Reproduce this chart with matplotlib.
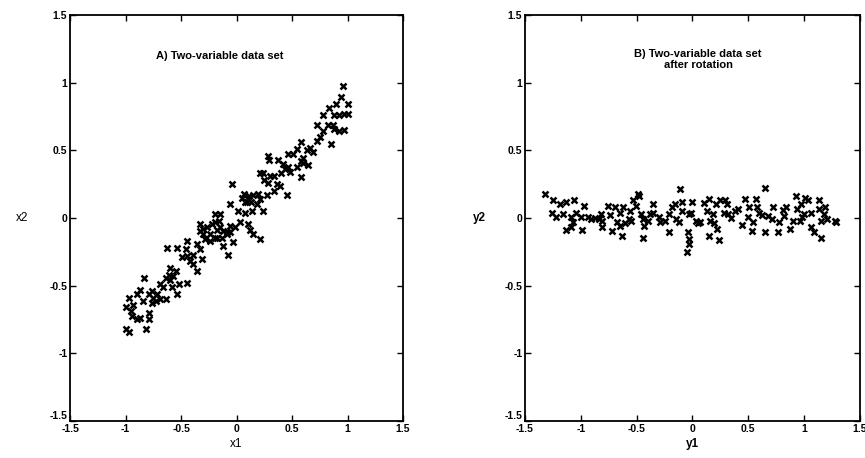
import matplotlib
matplotlib.use("Agg")
import matplotlib.pyplot as plt

plt.rcParams['font.family'] = ['Liberation Sans', 'DejaVu Sans']

# panel A: original two-variable data (x1, x2)
x1 = [0.955, 0.94, 1.0, 0.90, 0.83, 0.78, 0.88, 0.97, 0.925, 1.0,
      0.72, 0.82, 0.87, 0.88, 0.925, 0.97, 0.78, 0.75, 0.72, 0.85,
      0.58, 0.66, 0.69, 0.63, 0.54, 0.51, 0.46, 0.60, 0.64, 0.58,
      0.54, 0.46, 0.42, 0.37, 0.28, 0.29, 0.48, 0.58, 0.45, 0.40,
      0.34, 0.30, 0.24, 0.21, 0.25, 0.28, 0.36, 0.39, 0.34, 0.27,
      0.21, 0.19, 0.15, 0.10, 0.07, 0.045, -0.045, -0.06, 0.015, 0.075,
      0.135, 0.18, 0.24, 0.09, 0.13, 0.03, -0.015, 0.12, 0.15, 0.21,
      0.105, -0.06, -0.09, -0.03, -0.075, -0.12, -0.135, -0.18, -0.15, -0.19,
      -0.15, -0.19, -0.22, -0.27, -0.24, -0.30, -0.33, -0.28, -0.24, -0.19,
      -0.36, -0.33, -0.31, -0.39, -0.42, -0.45, -0.46, -0.45, -0.54, -0.63,
      -0.49, -0.39, -0.36, -0.45, -0.52, -0.60, -0.61, -0.57, -0.54, -0.58,
      -0.64, -0.69, -0.66, -0.64, -0.69, -0.73, -0.76, -0.79, -0.83, -0.84,
      -0.87, -0.90, -0.93, -0.97, -1.0, -0.955, -0.94, -0.90, -0.87, -0.79,
      -0.79, -0.82, -1.0, -0.97, -0.72, -0.75, -0.76, -0.60, -0.55, -0.30,
      -0.33, -0.16, -0.12, -0.09, -0.06, -0.18, 0.11, 0.08, 0.60, 0.44]
x2 = [0.975, 0.896, 0.84, 0.84, 0.81, 0.76, 0.76, 0.77, 0.76, 0.77,
      0.69, 0.69, 0.69, 0.66, 0.64, 0.65, 0.64, 0.60, 0.57, 0.55,
      0.56, 0.52, 0.49, 0.50, 0.51, 0.475, 0.475, 0.41, 0.39, 0.425,
      0.38, 0.38, 0.40, 0.43, 0.46, 0.43, 0.34, 0.30, 0.17, 0.33,
      0.31, 0.31, 0.33, 0.33, 0.28, 0.26, 0.25, 0.24, 0.20, 0.17,
      0.14, 0.18, 0.17, 0.14, 0.18, 0.15, 0.25, 0.10, 0.055, 0.04,
      0.055, 0.10, 0.055, 0.115, 0.115, -0.03, -0.07, -0.09, -0.12, -0.155,
      -0.045, -0.06, -0.12, -0.18, -0.27, -0.205, -0.145, -0.09, -0.07, -0.03,
      0.03, 0.03, -0.045, -0.07, -0.12, -0.08, -0.045, -0.155, -0.17, -0.145,
      -0.19, -0.23, -0.30, -0.27, -0.32, -0.28, -0.23, -0.17, -0.22, -0.22,
      -0.29, -0.34, -0.39, -0.48, -0.49, -0.37, -0.42, -0.43, -0.56, -0.51,
      -0.44, -0.49, -0.51, -0.60, -0.60, -0.61, -0.54, -0.56, -0.44, -0.61,
      -0.53, -0.56, -0.64, -0.59, -0.66, -0.69, -0.725, -0.75, -0.74, -0.70,
      -0.75, -0.82, -0.82, -0.84, -0.56, -0.59, -0.625, -0.46, -0.39, -0.12,
      -0.095, -0.02, -0.095, -0.105, -0.105, -0.145, 0.16, 0.12, 0.44, 0.36]

# panel B: the same data after rotation (y1, y2)
y1 = [-1.32, -1.25, -1.19, -1.26, -1.22, -1.16, -1.13, -1.06, -1.13, -1.09,
      -1.07, -1.09, -1.04, -0.97, -0.99, -1.0, -0.94, -0.91, -0.87, -0.81,
      -0.82, -0.81, -0.76, -0.69, -0.72, -0.68, -0.65, -0.63, -0.62, -0.65,
      -0.60, -0.57, -0.56, -0.53, -0.49, -0.48, -0.51, -0.46, -0.44, -0.44,
      -0.43, -0.40, -0.38, -0.35, -0.35, -0.29, -0.25, -0.21, -0.21, -0.18,
      -0.16, -0.15, -0.12, -0.11, -0.09, -0.09, -0.044, -0.035, -0.03, -0.05,
      -0.006, -0.015, 0.03, 0.07, 0.10, 0.15, 0.13, 0.18, 0.16, 0.19,
      0.15, 0.22, 0.24, 0.21, 0.25, 0.29, 0.31, 0.28, 0.32, 0.35,
      0.41, 0.44, 0.47, 0.50, 0.51, 0.54, 0.535, 0.57, 0.58, 0.60,
      0.65, 0.65, 0.68, 0.71, 0.72, 0.78, 0.77, 0.81, 0.84, 0.82,
      0.87, 0.90, 0.93, 0.94, 0.96, 0.985, 1.01, 1.04, 1.06, 1.06,
      1.09, 1.13, 1.13, 1.15, 1.15, 1.18, 1.19, 1.21, 1.29, 1.28,
      0.97, -0.03, -0.84, -0.74, -0.55, -0.30, 0.05, 0.38, 0.62, 1.00]
y2 = [0.18, 0.13, 0.10, 0.04, 0.005, 0.03, 0.115, 0.13, -0.09, -0.07,
      -0.03, 0.005, 0.04, 0.09, -0.09, 0.005, 0.005, -0.007, 0.0, -0.02,
      0.03, -0.07, 0.09, 0.085, -0.095, -0.03, -0.057, -0.13, 0.08, 0.04,
      -0.04, -0.007, 0.055, 0.13, 0.18, 0.16, 0.09, 0.03, -0.007, -0.15,
      -0.057, -0.02, 0.03, 0.10, 0.04, -0.03, -0.02, -0.105, 0.03, 0.08,
      0.10, -0.007, -0.03, 0.215, 0.115, 0.055, -0.105, -0.155, -0.19, -0.25,
      0.115, 0.04, -0.025, -0.03, 0.11, 0.14, 0.055, 0.03, -0.02, -0.04,
      -0.13, -0.08, -0.165, 0.10, 0.13, 0.13, 0.10, 0.035, 0.03, 0.0,
      0.067, -0.05, 0.14, 0.005, 0.08, -0.03, -0.095, 0.14, 0.08, 0.04,
      0.22, -0.105, 0.017, -0.007, 0.085, -0.03, -0.105, 0.06, 0.08, 0.017,
      -0.08, -0.02, 0.16, 0.067, -0.02, 0.005, 0.15, 0.13, 0.04, -0.07,
      -0.105, 0.13, 0.067, -0.02, -0.145, 0.03, 0.08, -0.007, -0.03, -0.02,
      0.10, 0.03, -0.01, 0.02, -0.02, 0.01, -0.04, 0.05, 0.02, 0.03]

ticks = [-1.5, -1, -0.5, 0, 0.5, 1, 1.5]
tick_labels = ["-1.5", "-1", "-0.5", "0", "0.5", "1", "1.5"]


def style_axes(ax):
    ax.set_xlim(-1.5, 1.5)
    ax.set_ylim(-1.5, 1.5)
    ax.set_xticks(ticks)
    ax.set_yticks(ticks)
    ax.set_xticklabels(tick_labels, fontweight="bold", fontsize=7.5)
    ax.set_yticklabels(tick_labels, fontweight="bold", fontsize=7.5)
    ax.tick_params(direction="in", top=True, right=True, length=4, width=1, pad=2)
    # nudge the corner labels apart a little
    ax.get_yticklabels()[0].set_va("bottom")
    for s in ax.spines.values():
        s.set_linewidth(1.3)


fig = plt.figure(figsize=(8.65, 4.58), dpi=100)

axA = fig.add_axes([0.081, 0.081, 0.385, 0.886])
axA.plot(x1, x2, "x", color="black", markersize=4.5, mew=1.8)
style_axes(axA)
axA.set_xlabel("x1", fontsize=8.5, labelpad=3)
axA.set_ylabel("x2", fontsize=8.5, rotation=0, labelpad=20, va="center")
axA.text(-0.15, 1.2, "A) Two-variable data set", ha="center", va="center",
         fontsize=8, fontweight="bold")

axB = fig.add_axes([0.607, 0.081, 0.387, 0.886])
axB.plot(y1, y2, "x", color="black", markersize=4.5, mew=1.8)
style_axes(axB)
axB.set_xlabel("y1", fontsize=8.5, fontweight="bold", labelpad=3)
axB.set_ylabel("y2", fontsize=8.5, fontweight="bold", rotation=0, labelpad=18, va="center")
axB.text(0.05, 1.17, "B) Two-variable data set\nafter rotation", ha="center", va="center",
         fontsize=8, fontweight="bold", linespacing=1.1)

fig.savefig("out.png", dpi=100)
